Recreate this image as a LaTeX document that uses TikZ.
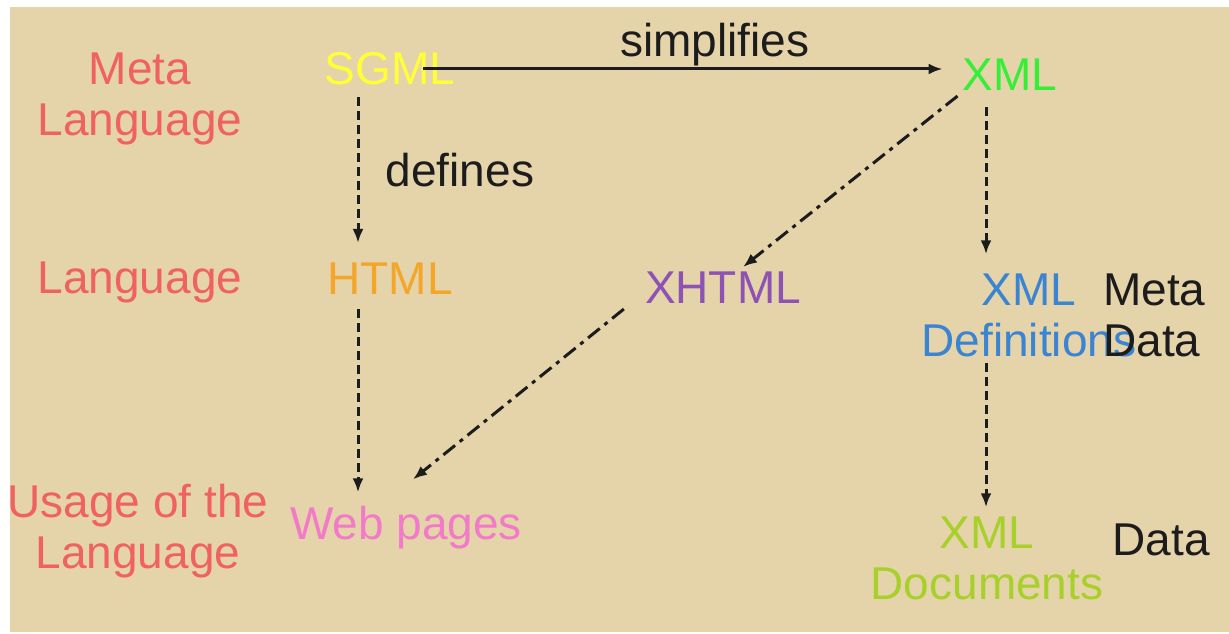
\documentclass[tikz,border=0pt]{standalone}
\usepackage{fontspec}
\setmainfont{Liberation Sans}
\usepackage{xcolor}
\usetikzlibrary{arrows.meta, positioning}

\definecolor{sheet}{HTML}{E5D3AA}
\definecolor{levelred}{HTML}{F06262}
\definecolor{sgmlyellow}{HTML}{FFFF38}
\definecolor{xmlgreen}{HTML}{36EE36}
\definecolor{htmlorange}{HTML}{F4A62A}
\definecolor{xhtmlpurple}{HTML}{8E52B4}
\definecolor{defblue}{HTML}{3A84D2}
\definecolor{docgreen}{HTML}{A8D02A}
\definecolor{webpink}{HTML}{F27AC8}
\definecolor{ink}{HTML}{1C1C1C}

\begin{document}
\begin{tikzpicture}[x=1pt, y=-1pt,
  lbl/.style={inner sep=0pt, align=center, font=\fontsize{46}{51}\selectfont},
  link/.style={-{Latex[length=14pt,width=11pt]}, line width=3pt, draw=ink},
  dashlink/.style={link, dash pattern=on 9pt off 5pt},
  dotlink/.style={link, dash pattern=on 15pt off 6pt on 4pt off 6pt}]
\useasboundingbox (0,0) rectangle (1229,634);
\fill[white] (0,0) rectangle (1229,634);
\fill[sheet] (10,7) rectangle (1229,632);

% Levels
\node[lbl, text=levelred] (metalang) at (140,99) {Meta\\Language};
\node[lbl, text=levelred] (lang) at (140,282) {Language};
\node[lbl, text=levelred] (usage) at (138,531) {Usage of the\\Language};

% Nodes
\node[lbl, text=sgmlyellow] (sgml) at (390,69) {SGML};
\node[lbl, text=xmlgreen] (xml) at (1010,75) {XML};
\node[lbl, text=htmlorange] (html) at (390,279) {HTML};
\node[lbl, text=xhtmlpurple] (xhtml) at (723,288) {XHTML};
\node[lbl, text=defblue] (xmldef) at (1029,315) {XML\\Definitions};
\node[lbl, text=webpink] (web) at (406,528) {Web pages};
\node[lbl, text=docgreen] (xmldoc) at (987,558) {XML\\Documents};

% Labels
\node[lbl, text=ink] (simpl) at (715,45) {simplifies};
\node[lbl, text=ink] (defines) at (460,170) {defines};
\node[lbl, text=ink, align=left, anchor=west] (metadata) at (1103,315) {Meta\\Data};
\node[lbl, text=ink] (data) at (1161,540) {Data};

% Arrows
\draw[link, shorten <=33pt, shorten >=20pt] (sgml.center) -- (sgml.center -| xml.west);
\draw[dashlink, shorten <=12pt, shorten >=20pt] ([xshift=-32pt]sgml.south) -- ([xshift=-32pt]sgml.south |- html.north);
\draw[dashlink, shorten <=14pt, shorten >=14pt] ([xshift=-32pt]html.south) -- ([xshift=-32pt]html.south |- web.north);
\draw[dotlink] ([xshift=-5pt,yshift=-5pt]xml.south west) -- ([xshift=20pt,yshift=5pt]xhtml.north);
\draw[dotlink] ([xshift=-21pt,yshift=-5pt]xhtml.south west) -- ([xshift=7pt,yshift=27pt]web.north);
\draw[dashlink, shorten <=16pt, shorten >=19pt] ([xshift=-24pt]xml.south) -- ([xshift=-24pt]xml.south |- xmldef.north);
\draw[dashlink, shorten <=6pt, shorten >=9pt] ([xshift=-1pt]xmldoc.north |- xmldef.south) -- ([xshift=-1pt]xmldoc.north);
\end{tikzpicture}
\end{document}
